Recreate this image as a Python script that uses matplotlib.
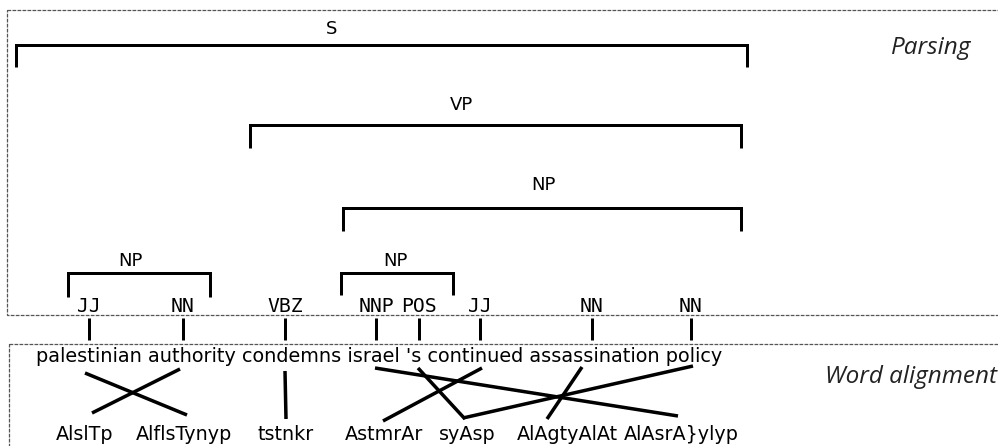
import matplotlib
matplotlib.use("Agg")
import matplotlib.pyplot as plt
from matplotlib.patches import Rectangle

# ---------------- data ----------------
english_words = ["palestinian", "authority", "condemns", "israel", "'s",
                 "continued", "assassination", "policy"]
pos_tags = ["JJ", "NN", "VBZ", "NNP", "POS", "JJ", "NN", "NN"]
arabic_words = ["AlslTp", "AlflsTynyp", "tstnkr", "AstmrAr", "syAsp",
                "AlAgtyAlAt", "AlAsrA}ylyp"]
# word alignment links: (english index, arabic index)
alignment_links = [(0, 1), (1, 0), (2, 2), (3, 6), (4, 4), (5, 3), (6, 5), (7, 4)]
# constituents of the parse tree
constituent_labels = ["S", "VP", "NP", "NP", "NP"]

# ---------------- layout (pixel coordinates) ----------------
W, H = 998, 446
sentence_span = (36, 723)
english_x = [89, 183, 285, 376, 419, 480, 592, 691]   # tag / bar positions
arabic_x = [85, 184, 286, 384, 467, 567, 681]
bracket_x = [(16, 747), (250, 741), (343, 741), (68, 210), (341, 453)]
bracket_y = [(45, 67), (125, 148), (208, 231), (273, 297), (273, 295)]
label_xy = [(332, 34), (461, 110), (543, 190), (130, 266), (395, 266)]
link_dx_top = [-4, -3, 0, -1, -1, 2, -10, 2]
link_dx_bot = [3, 7, 0, -3, -2, -1, -20, -4]
link_y_top = [373, 369, 371, 368, 368, 368, 367, 366]
link_y_bot = [415, 413, 419, 416, 419, 421, 419, 418]

fig = plt.figure(figsize=(W / 100, H / 100), dpi=100)
ax = fig.add_axes([0, 0, 1, 1])
ax.set_xlim(0, W)
ax.set_ylim(H, 0)
ax.axis("off")
renderer = fig.canvas.get_renderer()

PX = 0.72  # points per pixel at 100 dpi
AR_SIZE = 13.8


def fit_size(s, width, **kw):
    t = ax.text(0, 0, s, fontsize=10, **kw)
    w = t.get_window_extent(renderer).width
    t.remove()
    return 10 * width / w


# dotted boxes
box_kw = dict(fill=False, edgecolor="#555555", linewidth=0.9,
              linestyle=(0, (3, 1)))
ax.add_patch(Rectangle((7.5, 10), 1100, 304.5, **box_kw))
ax.add_patch(Rectangle((9, 343.5), 1100, 200, **box_kw))

# English sentence
sentence = " ".join(english_words)
en_size = fit_size(sentence, sentence_span[1] - sentence_span[0], family="DejaVu Sans")
ax.text(sentence_span[0], 362, sentence, fontsize=en_size, family="DejaVu Sans",
        ha="left", va="baseline", color="black")

# POS tags and connecting bars
for cx, tag in zip(english_x, pos_tags):
    ax.text(cx, 312, tag, fontsize=14.2, family="DejaVu Sans Mono",
            ha="center", va="baseline", color="black")
    ax.plot([cx, cx], [318, 340], color="black", lw=3 * PX,
            solid_capstyle="butt")

# brackets
for (xa, xb), (yt, yb), lab, (lx, ly) in zip(bracket_x, bracket_y,
                                             constituent_labels, label_xy):
    ax.plot([xa, xa, xb, xb], [yb, yt, yt, yb], color="black", lw=3 * PX,
            solid_joinstyle="miter", solid_capstyle="butt")
    ax.text(lx, ly, lab, fontsize=13, family="DejaVu Sans",
            ha="center", va="baseline", color="black")

# Arabic (transliterated) words
for axx, w in zip(arabic_x, arabic_words):
    ax.text(axx, 440, w, fontsize=AR_SIZE, family="DejaVu Sans",
            ha="center", va="baseline", color="black")

# alignment links
for (ei, ai), dt, db, yt, yb in zip(alignment_links, link_dx_top, link_dx_bot,
                                    link_y_top, link_y_bot):
    ax.plot([english_x[ei] + dt, arabic_x[ai] + db], [yt, yb],
            color="black", lw=3.5 * PX, solid_capstyle="butt")

# section labels
ax.text(931, 48, "Parsing", fontsize=17.5,
        family="Open Sans", style="italic", ha="center", va="center", color="#222222")
ax.text(911, 377, "Word alignment", fontsize=17.5,
        family="Open Sans", style="italic", ha="center", va="center", color="#222222")

fig.savefig("out.png", dpi=100)
